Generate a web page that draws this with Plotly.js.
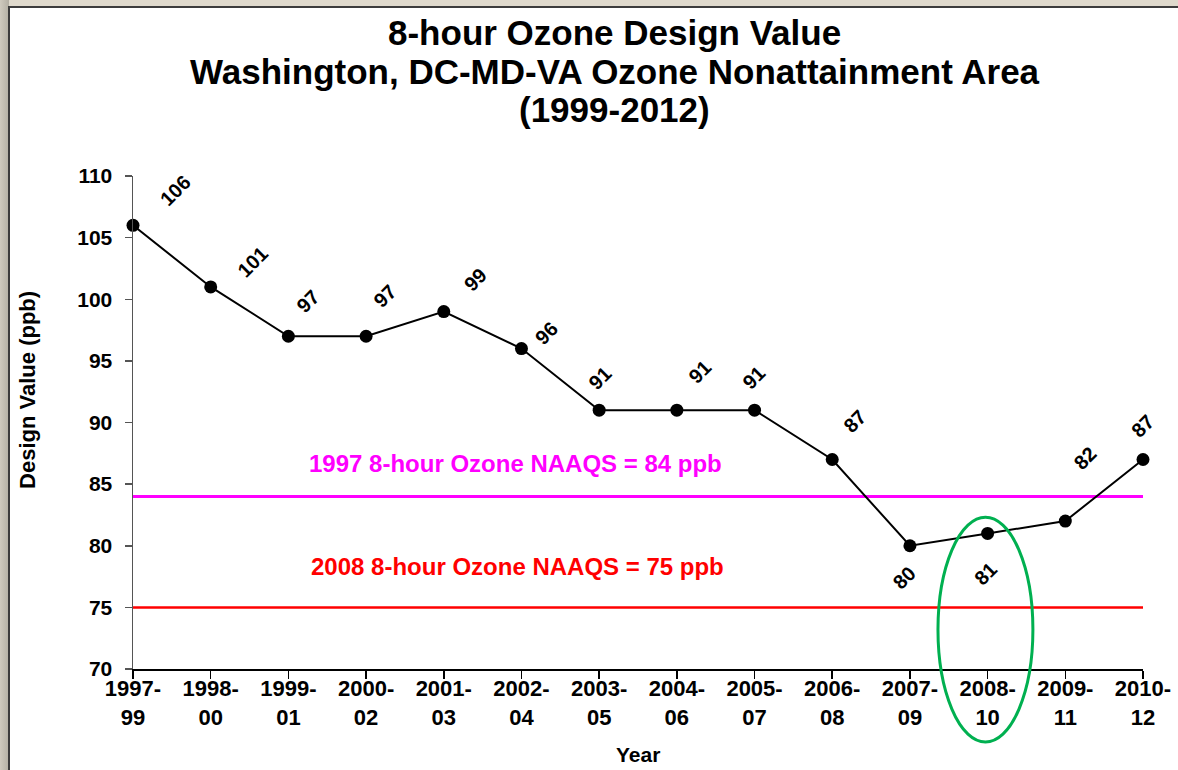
<!DOCTYPE html>
<html>
<head>
<meta charset="utf-8">
<script src="https://cdn.plot.ly/plotly-3.0.1.min.js"></script>
<style>
  html, body { margin: 0; padding: 0; width: 1178px; height: 770px; overflow: hidden; background: #dfd9cc; }
  #leftstrip { position: absolute; left: 0; top: 0; width: 9px; height: 770px; background: linear-gradient(to right, #cfcabe, #b3afa3); }
  #frame { position: absolute; left: 9px; top: 7px; width: 1169px; height: 763px; background: #ffffff; }
  #topline { position: absolute; left: 9px; top: 6px; width: 1169px; height: 2px; background: #3c3c3c; }
  #leftline { position: absolute; left: 8px; top: 6px; width: 2px; height: 764px; background: #3c3c3c; }
  #chart { position: absolute; left: 9px; top: 7px; width: 1169px; height: 763px; }
</style>
</head>
<body>
<div id="leftstrip"></div>
<div id="frame"></div>
<div id="chart"></div>
<div id="topline"></div>
<div id="leftline"></div>
<script>
// ---- data ----
const periods = ["1997-<br>99", "1998-<br>00", "1999-<br>01", "2000-<br>02", "2001-<br>03", "2002-<br>04", "2003-<br>05",
                 "2004-<br>06", "2005-<br>07", "2006-<br>08", "2007-<br>09", "2008-<br>10", "2009-<br>11", "2010-<br>12"];
const designValues = [106, 101, 97, 97, 99, 96, 91, 91, 91, 87, 80, 81, 82, 87];
const naaqs1997 = 84;
const naaqs2008 = 75;
const naaqs1997Label = "1997 8-hour Ozone NAAQS = 84 ppb";
const naaqs2008Label = "2008 8-hour Ozone NAAQS = 75 ppb";
const titleLines = ["8-hour Ozone Design Value", "Washington, DC-MD-VA Ozone Nonattainment Area", "(1999-2012)"];
const yTitle = "Design Value (ppb)";
const xTitle = "Year";

// ---- label placement (styling only, pixel offsets) ----
const labelShift = [[42, 34], [42, 25], [20, 35], [19, 40], [31, 32], [25, 16], [1, 32],
                    [23, 38], [-1, 32], [23, 38], [-6, -32], [-2, -41], [20, 63], [0, 33]];
const titleY = [1.292, 1.211, 1.134];

const FONT = "Liberation Sans, Arial, sans-serif";

const trace = {
  type: "scatter",
  mode: "lines+markers",
  x: periods,
  y: designValues,
  line: { color: "#000000", width: 2 },
  marker: { color: "#000000", size: 13 },
  cliponaxis: false,
  hoverinfo: "x+y"
};

const annotations = designValues.map((v, i) => ({
  x: periods[i], y: v, xref: "x", yref: "y",
  text: "<b>" + v + "</b>", showarrow: false, textangle: -45,
  xshift: labelShift[i][0], yshift: labelShift[i][1],
  xanchor: "center", yanchor: "middle",
  font: { family: FONT, size: 20, color: "#000000" }
}));

titleLines.forEach((t, i) => annotations.push({
  x: 0.477, xref: "paper", y: titleY[i], yref: "paper",
  xanchor: "center", yanchor: "middle",
  text: "<b>" + t + "</b>", showarrow: false,
  font: { family: FONT, size: 35, color: "#000000" }
}));

annotations.push({
  x: 0.379, xref: "paper", y: naaqs1997, yref: "y", yshift: 33,
  xanchor: "center", yanchor: "middle",
  text: "<b>" + naaqs1997Label + "</b>", showarrow: false,
  font: { family: FONT, size: 24, color: "#ff00ff" }
});
annotations.push({
  x: 0.381, xref: "paper", y: naaqs2008, yref: "y", yshift: 41,
  xanchor: "center", yanchor: "middle",
  text: "<b>" + naaqs2008Label + "</b>", showarrow: false,
  font: { family: FONT, size: 24, color: "#ff0000" }
});
annotations.push({
  x: -0.104, xref: "paper", y: 0.566, yref: "paper",
  xanchor: "center", yanchor: "middle",
  text: "<b>" + yTitle + "</b>", showarrow: false, textangle: -90,
  font: { family: FONT, size: 22, color: "#000000" }
});
annotations.push({
  x: 0.500, xref: "paper", y: -0.174, yref: "paper",
  xanchor: "center", yanchor: "middle",
  text: "<b>" + xTitle + "</b>", showarrow: false,
  font: { family: FONT, size: 21, color: "#000000" }
});

const layout = {
  width: 1169, height: 763,
  margin: { l: 124, r: 35, t: 169, b: 101 },
  paper_bgcolor: "rgba(0,0,0,0)",
  plot_bgcolor: "rgba(0,0,0,0)",
  showlegend: false,
  xaxis: {
    type: "category",
    range: [0, 13],
    showgrid: false, zeroline: false,
    showline: true, linecolor: "#000000", linewidth: 1.5,
    ticks: "outside", ticklen: 8, tickcolor: "#000000", tickwidth: 1.5,
    ticklabelstandoff: -9,
    tickfont: { family: FONT, size: 22, color: "#000000" },
    fixedrange: true
  },
  yaxis: {
    range: [70, 110], dtick: 5, tick0: 70,
    showgrid: false, zeroline: false,
    showline: true, linecolor: "#555555", linewidth: 1.5,
    ticks: "outside", ticklen: 7, tickcolor: "#555555", tickwidth: 1.5,
    ticklabelstandoff: 8,
    tickfont: { family: FONT, size: 21, color: "#000000" },
    tickprefix: "<b>", ticksuffix: "</b>",
    fixedrange: true
  },
  shapes: [
    { type: "line", xref: "paper", x0: 0, x1: 1, yref: "y", y0: naaqs1997, y1: naaqs1997,
      line: { color: "#ff00ff", width: 3 }, layer: "below" },
    { type: "line", xref: "paper", x0: 0, x1: 1, yref: "y", y0: naaqs2008, y1: naaqs2008,
      line: { color: "#ff0000", width: 2.5 }, layer: "below" },
    { type: "circle", xref: "paper", yref: "paper", x0: 0.797, x1: 0.891, y0: -0.148, y1: 0.308,
      line: { color: "#00b050", width: 3 }, fillcolor: "rgba(0,0,0,0)" }
  ],
  annotations: annotations
};

// bold x tick labels
layout.xaxis.tickvals = periods;
layout.xaxis.ticktext = periods.map(p => "<b>" + p + "</b>");

Plotly.newPlot("chart", [trace], layout, { displayModeBar: false, staticPlot: true });
</script>
</body>
</html>
